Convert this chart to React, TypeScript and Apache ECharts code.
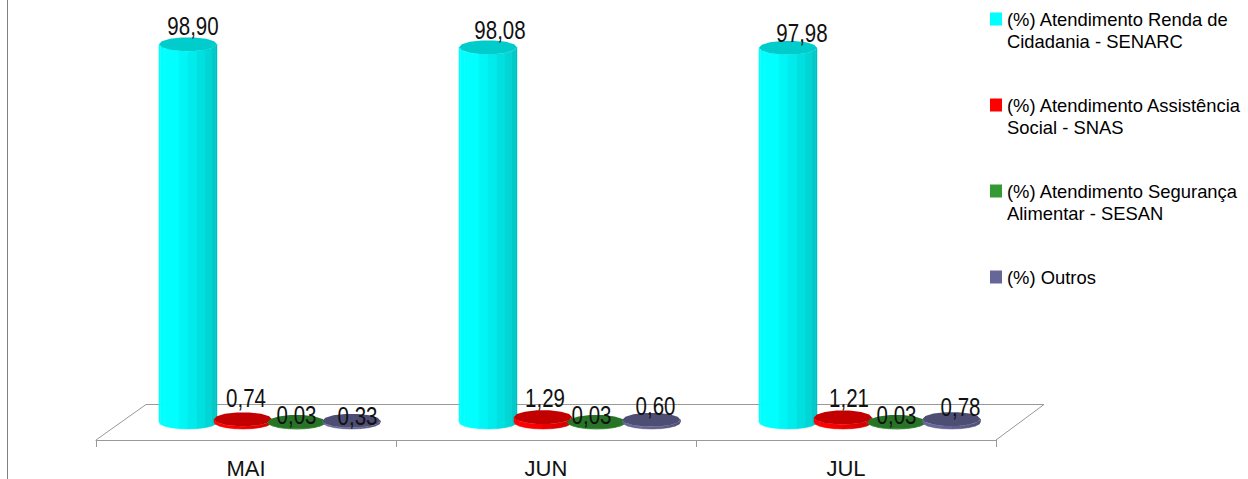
import React, { useEffect, useRef } from "react";
import * as echarts from "echarts";

const months = ["MAI", "JUN", "JUL"];
const seriesNames = [
  "(%) Atendimento Renda de Cidadania - SENARC",
  "(%) Atendimento Assistência Social - SNAS",
  "(%) Atendimento Segurança Alimentar - SESAN",
  "(%) Outros",
];
const legendLines = [
  "(%) Atendimento Renda de\nCidadania - SENARC",
  "(%) Atendimento Assistência\nSocial - SNAS",
  "(%) Atendimento Segurança\nAlimentar - SESAN",
  "(%) Outros\n ",
];
const renda = [98.9, 98.08, 97.98];
const assistencia = [0.74, 1.29, 1.21];
const seguranca = [0.03, 0.03, 0.03];
const outros = [0.33, 0.6, 0.78];
const values = [renda, assistencia, seguranca, outros];
const colors = ["#00FFFF", "#FF0000", "#339933", "#666699"];

// presentation only
const barOffsets = [-58, -3, 50.5, 105.5];
const labelNudges = [
  [[5, -18], [12, -17], [14, -14]],
  [[3, -21], [2, -19], [6, -19]],
  [[0, -7], [-5, -7], [0, -7]],
  [[6, -5], [4, -14], [9, -12]],
];
const FONT = "'Liberation Sans', Arial, sans-serif";
const RX = 29;
const RY = 7;
const FACETS = 10;

function shade(hex: string, f: number) {
  const n = parseInt(hex.slice(1), 16);
  const c = [(n >> 16) & 255, (n >> 8) & 255, n & 255].map((v) => Math.round(v * f));
  return `rgb(${c[0]},${c[1]},${c[2]})`;
}

function cylinder(si: number) {
  return (params: any, api: any) => {
    const cat = api.value(0);
    const val = api.value(1);
    const [cxBase, topY] = api.coord([cat, val]);
    const [, baseY] = api.coord([cat, 0]);
    const cx = cxBase + barOffsets[si];
    const color = colors[si];
    const children: any[] = [];
    for (let i = 0; i < FACETS; i++) {
      const a0 = Math.PI - (i / FACETS) * Math.PI;
      const a1 = Math.PI - ((i + 1) / FACETS) * Math.PI;
      const x0 = cx + RX * Math.cos(a0);
      const x1 = cx + RX * Math.cos(a1);
      const d0 = RY * Math.sin(a0);
      const d1 = RY * Math.sin(a1);
      const t = i / (FACETS - 1);
      const f = t < 0.35 ? 1 : 1 - (t - 0.35) * 0.38;
      children.push({
        type: "polygon",
        shape: { points: [[x0, topY + d0], [x1, topY + d1], [x1, baseY + d1], [x0, baseY + d0]] },
        style: { fill: shade(color, f), stroke: shade(color, f), lineWidth: 0.5 },
      });
    }
    const top: number[][] = [];
    for (let i = 0; i < 14; i++) {
      const a = (i / 14) * Math.PI * 2;
      top.push([cx + RX * Math.cos(a), topY + RY * Math.sin(a)]);
    }
    children.push({
      type: "polygon",
      shape: { points: top },
      style: { fill: shade(color, si === 0 ? 0.8 : 0.76) },
    });
    const [dx, dy] = labelNudges[si][cat];
    children.push({
      type: "text",
      z2: 100,
      x: cx + dx,
      y: topY + dy,
      scaleX: 0.82,
      style: {
        text: val.toFixed(2).replace(".", ","),
        x: 0,
        y: 0,
        align: "center",
        verticalAlign: "middle",
        fill: "#111",
        font: `25px ${FONT}`,
      },
    });
    return { type: "group", children };
  };
}

export default function App() {
  const ref = useRef<HTMLDivElement>(null);
  useEffect(() => {
    const chart = echarts.init(ref.current!, null, { renderer: "svg" });
    const legendIcon = "path://M0 4.5h12v13h-12zM0 0h0M0 44h0";
    chart.setOption({
      animation: false,
      backgroundColor: "#fff",
      grid: { left: 96, right: 252, top: 40, bottom: 39, containLabel: false, outerBoundsMode: "none" },
      xAxis: {
        type: "category",
        data: months,
        axisLine: { onZero: false, lineStyle: { color: "#999", width: 1 } },
        axisTick: { show: true, length: 7, lineStyle: { color: "#999" } },
        axisLabel: { color: "#111", fontFamily: FONT, fontSize: 22, margin: 17 },
      },
      yAxis: { type: "value", min: -4.7, max: 100, show: false },
      legend: {
        orient: "vertical",
        left: 990,
        top: 8,
        padding: 0,
        itemWidth: 12,
        itemHeight: 44,
        itemGap: 42,
        icon: legendIcon,
        selectedMode: false,
        data: seriesNames,
        formatter: (n: string) => legendLines[seriesNames.indexOf(n)],
        textStyle: { color: "#000", fontFamily: FONT, fontSize: 18.4, lineHeight: 22 },
      },
      graphic: [
        { type: "line", shape: { x1: 7.5, y1: 0, x2: 7.5, y2: 479 }, style: { stroke: "#808080", lineWidth: 1 } },
        {
          type: "polyline",
          shape: { points: [[96, 440], [146, 404.5], [1044, 404.5], [996, 440]] },
          style: { stroke: "#999", lineWidth: 1, fill: "none" },
          z: -1,
        },
      ],
      series: values.map((vals, si) => ({
        type: "custom",
        name: seriesNames[si],
        itemStyle: { color: colors[si] },
        encode: { x: 0, y: 1 },
        data: vals.map((v, i) => [i, v]),
        renderItem: cylinder(si),
        clip: false,
      })),
    });
    return () => chart.dispose();
  }, []);
  return (
    <div
      ref={ref}
      style={{ position: "fixed", left: 0, top: 0, width: 1248, height: 479, overflow: "hidden" }}
    />
  );
}
